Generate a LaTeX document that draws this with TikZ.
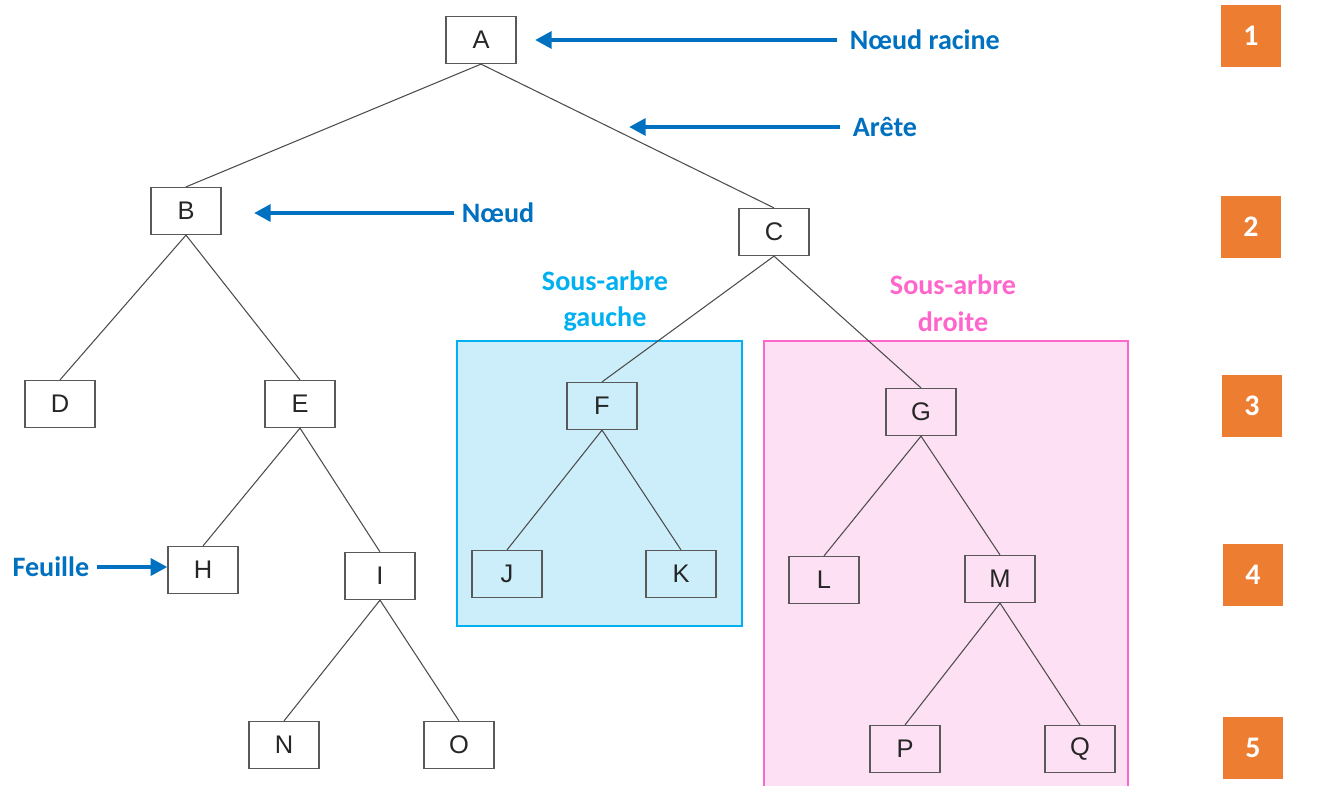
\documentclass[tikz,border=0pt]{standalone}
\usepackage{fontspec}
\setmainfont{Carlito}
\newfontfamily\nodefont{Liberation Sans}
\usepackage{tikz}
\usetikzlibrary{arrows.meta,positioning}
\definecolor{myblue}{RGB}{0,112,192}
\definecolor{mycyan}{RGB}{0,176,240}
\definecolor{mycyanfill}{RGB}{204,238,250}
\definecolor{mypink}{RGB}{255,102,204}
\definecolor{mypinkfill}{RGB}{253,224,243}
\definecolor{myorange}{RGB}{237,125,49}
\tikzstyle{vertex}=[draw=black!65,line width=0.7pt,minimum width=1.4cm,minimum height=0.94cm,inner sep=0pt,text=black!85,font=\nodefont\fontsize{14.5}{16}\selectfont]

\begin{document}
\begin{tikzpicture}[
  x=0.02cm, y=-0.02cm,
  edge/.style={draw=black!70,line width=0.6pt},
  pointer/.style={myblue,line width=2.8pt,-{Triangle[length=9.5pt,width=9.5pt]}},
  label/.style={font=\bfseries\fontsize{16}{19}\selectfont,text=myblue,inner sep=2pt},
  sublabel/.style={font=\bfseries\fontsize{16}{21}\selectfont,align=center},
  level/.style={fill=myorange,minimum width=1.2cm,minimum height=1.24cm,inner sep=0pt,
    text=white,font=\bfseries\fontsize{17}{20}\selectfont}
]
\useasboundingbox (0,0) rectangle (1344,785);

% subtrees
\draw[mycyan,fill=mycyanfill,line width=1.1pt] (457,341) rectangle (742,626);
\draw[mypink,fill=mypinkfill,line width=1.1pt] (764,790) -- (764,341) -- (1128,341) -- (1128,790);
\node[sublabel,text=mycyan] (sg) at (605,301) {Sous-arbre\\gauche};
\node[sublabel,text=mypink] (sd) at (953,303) {Sous-arbre\\droite};

% tree
\node[vertex] (A) at (481,40) {A};
\node[vertex] (B) at (186,211) {B};
\node[vertex] (C) at (774,232) {C};
\node[vertex] (D) at (60,404) {D};
\node[vertex] (E) at (300,404) {E};
\node[vertex] (F) at (602,406) {F};
\node[vertex] (G) at (921,412) {G};
\node[vertex] (H) at (203,570) {H};
\node[vertex] (I) at (380,576) {I};
\node[vertex] (J) at (507,574) {J};
\node[vertex] (K) at (681,574) {K};
\node[vertex] (L) at (824,580) {L};
\node[vertex] (M) at (1000,579) {M};
\node[vertex] (N) at (284,745) {N};
\node[vertex] (O) at (459,745) {O};
\node[vertex] (P) at (905,749) {P};
\node[vertex] (Q) at (1080,749) {Q};

\foreach \a/\b in {A/B,A/C,B/D,B/E,C/F,C/G,E/H,E/I,F/J,F/K,G/L,G/M,I/N,I/O,M/P,M/Q}
  \draw[edge] (\a.south) -- (\b.north);

% labels and arrows
\node[label,anchor=west] (racine) at (846,40) {Nœud racine};
\node[label,anchor=west] (arete) at (849,127) {Arête};
\node[label,anchor=west] (noeud) at (458,213) {Nœud};
\node[label,anchor=east] (feuille) at (93,567) {Feuille};
\coordinate (pracine) at (535,38);
\coordinate (parete) at (629,126);
\coordinate (pnoeud) at (254,212);
\draw[pointer] ([xshift=-5pt]racine.west) -- (racine.west -| pracine);
\draw[pointer] ([xshift=-5pt]arete.west) -- (arete.west -| parete);
\draw[pointer] ([xshift=-2pt]noeud.west) -- (noeud.west -| pnoeud);
\draw[pointer] ([xshift=2pt]feuille.east) -- (feuille.east -| H.west);

% levels
\foreach \n/\yy/\xx in {1/36/1251,2/227/1251,3/406/1252,4/575/1253,5/748/1253}
  \node[level] (lvl\n) at (\xx,\yy) {\n};

\end{tikzpicture}
\end{document}
